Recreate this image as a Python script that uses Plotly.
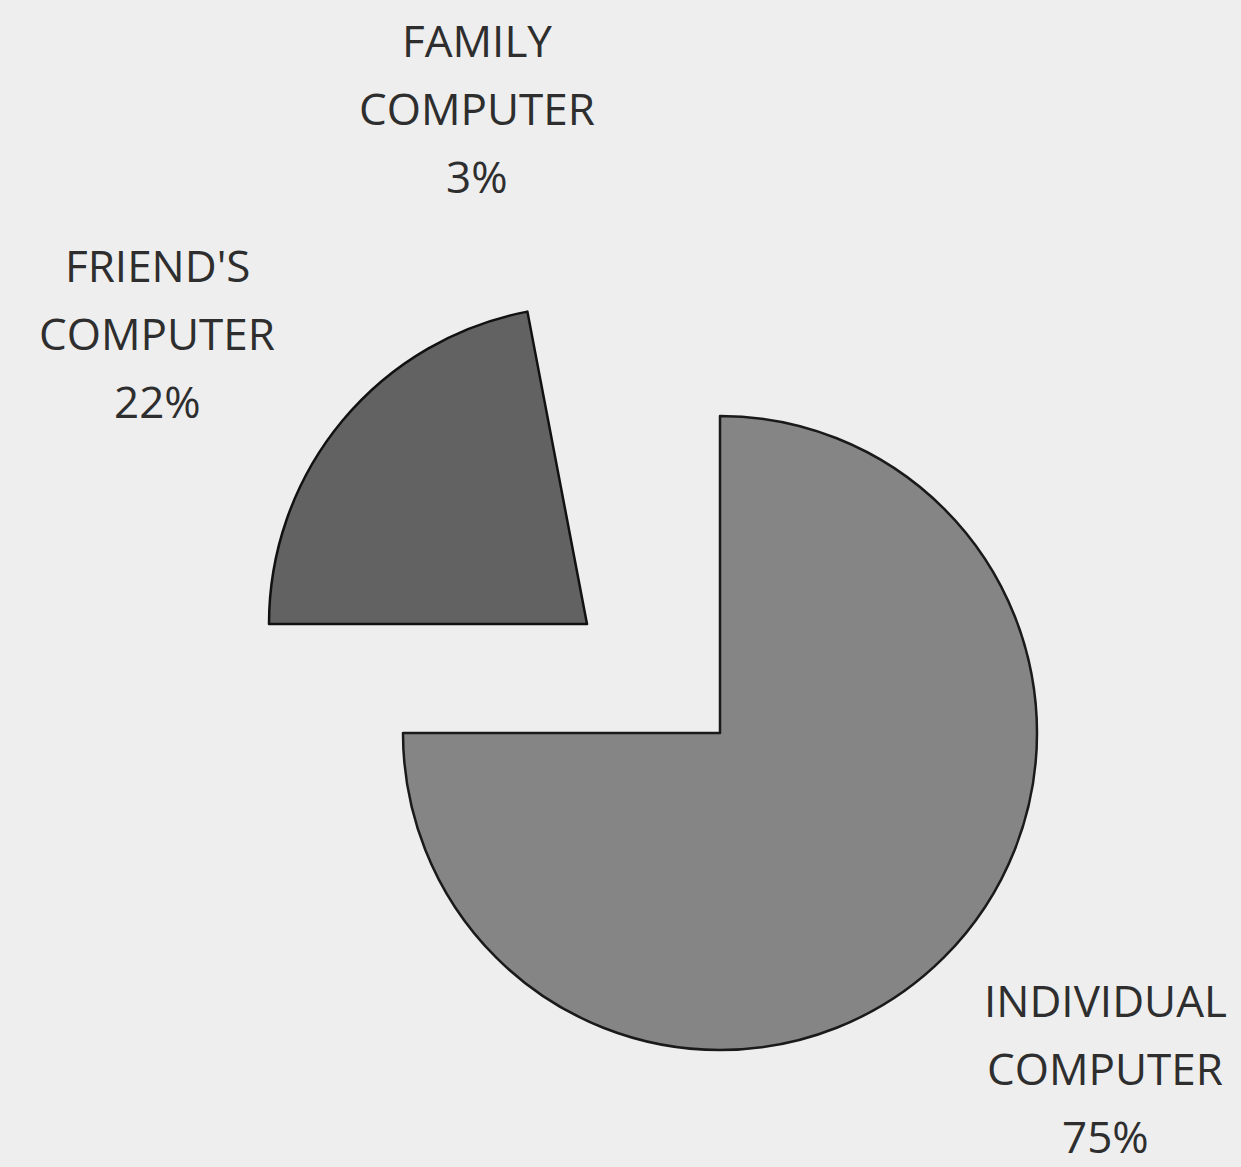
import plotly.graph_objects as go

# ---- data ----
categories = ["INDIVIDUAL COMPUTER", "FRIEND'S COMPUTER", "FAMILY COMPUTER"]
values = [75, 22, 3]

W, H = 1241, 1167
BG = "#eeeeee"

def dom(cx, cy, r):
    return dict(x=[(cx - r) / W, (cx + r) / W],
                y=[1 - (cy + r) / H, 1 - (cy - r) / H])

fig = go.Figure()

# main pie (individual slice shown)
fig.add_trace(go.Pie(
    labels=categories, values=values, sort=False, direction="clockwise", rotation=0,
    textinfo="none", hoverinfo="label+percent", showlegend=False,
    domain=dom(720, 733, 317),
    marker=dict(colors=["#858585", "rgba(0,0,0,0)", "rgba(0,0,0,0)"],
                line=dict(color=["#1a1a1a", "rgba(0,0,0,0)", "rgba(0,0,0,0)"], width=[2.5, 0, 0])),
))
# exploded friend's slice
fig.add_trace(go.Pie(
    labels=categories, values=values, sort=False, direction="clockwise", rotation=0,
    textinfo="none", hoverinfo="label+percent", showlegend=False,
    domain=dom(587, 624, 318),
    marker=dict(colors=["rgba(0,0,0,0)", "#626262", "rgba(0,0,0,0)"],
                line=dict(color=["rgba(0,0,0,0)", "#111111", "rgba(0,0,0,0)"], width=[0, 2.5, 0])),
))

# labels: (center x, first line y) in pixels
label_pos = {"INDIVIDUAL COMPUTER": (1105, 1000),
             "FRIEND'S COMPUTER": (157, 265),
             "FAMILY COMPUTER": (477, 40)}
spacing = 68
font = dict(family="Open Sans", size=44, color="#2e2e2e")
for cat, val in zip(categories, values):
    cx, y0 = label_pos[cat]
    lines = cat.split(" ") + [f"{val}%"]
    for i, t in enumerate(lines):
        fig.add_annotation(x=cx / W, y=1 - (y0 + i * spacing) / H, xref="paper", yref="paper",
                           text=t, showarrow=False, font=font, xanchor="center", yanchor="middle")

fig.update_layout(width=W, height=H, margin=dict(l=0, r=0, t=0, b=0),
                  paper_bgcolor=BG, plot_bgcolor=BG)
fig.write_html("out.html")
